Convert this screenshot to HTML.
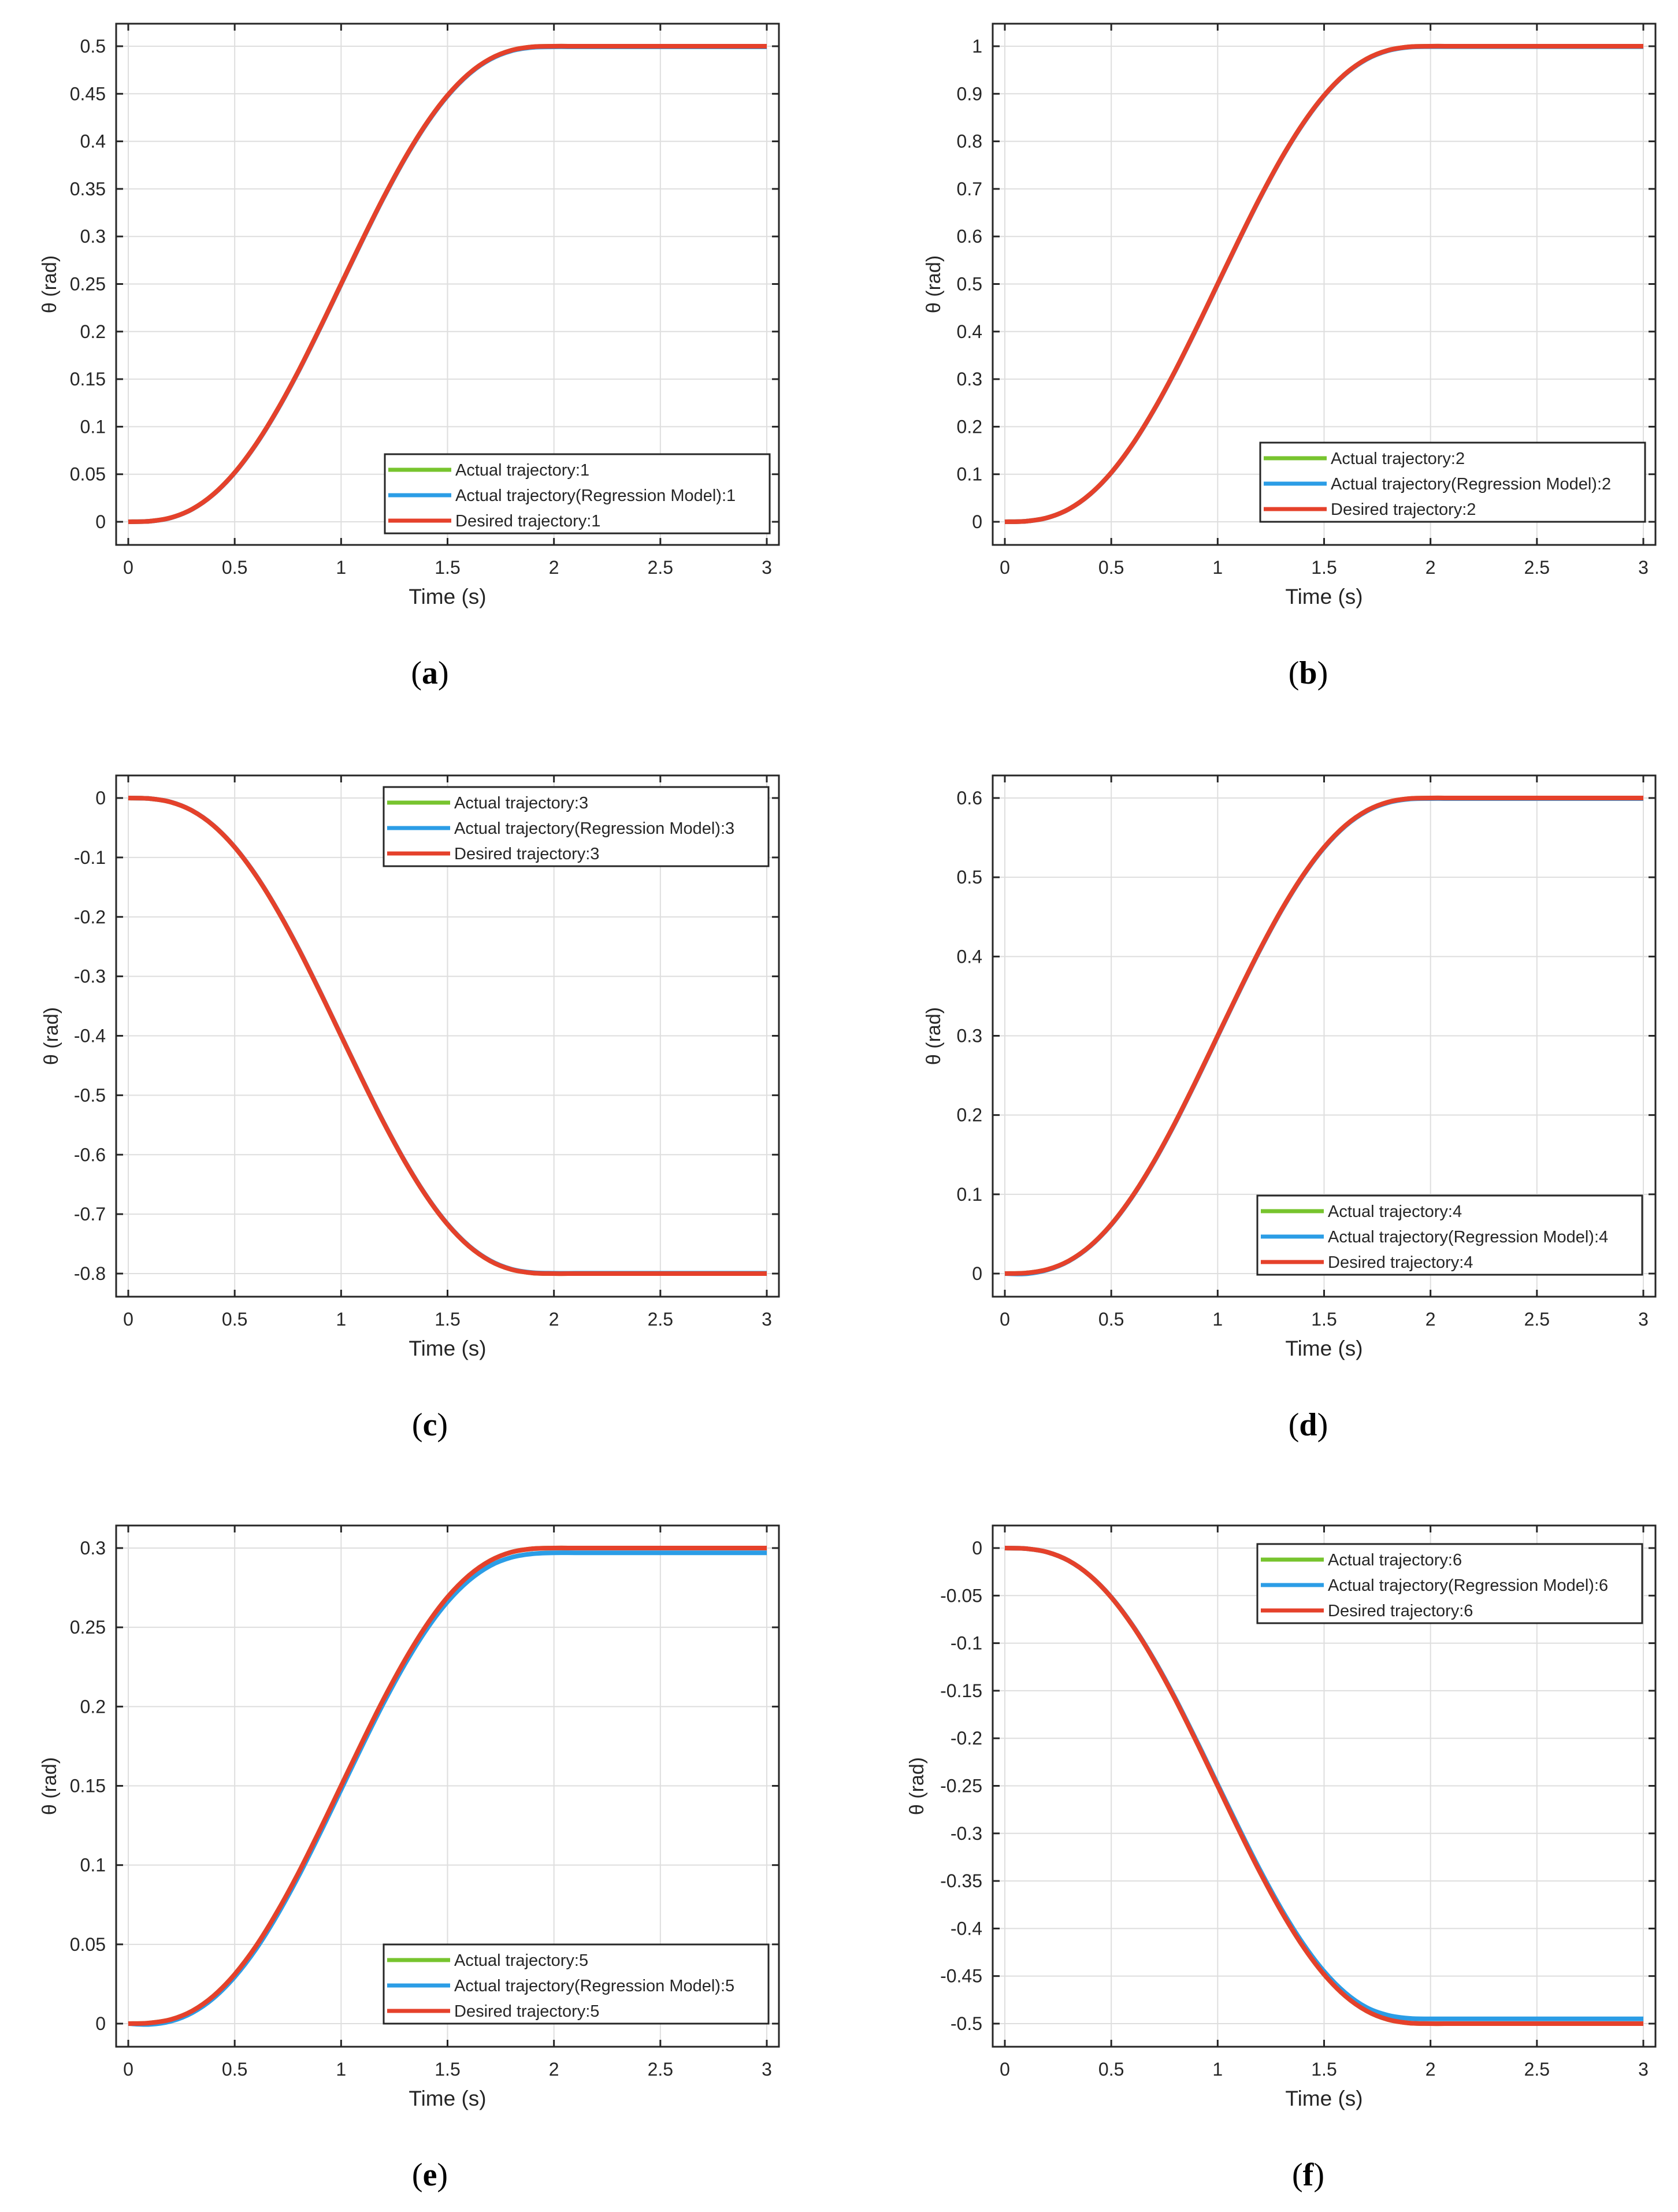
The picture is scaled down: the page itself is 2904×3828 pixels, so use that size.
<!DOCTYPE html>
<html><head><meta charset="utf-8"><title>Trajectories</title>
<style>
html,body{margin:0;padding:0;background:#fff;}
svg{display:block;}
text{font-family:"Liberation Sans",Arial,sans-serif;fill:#262626;}
.cap{font-family:"Liberation Serif",serif;font-size:56px;fill:#000;}
</style></head>
<body>
<svg id="fig" width="2904" height="3828" viewBox="0 0 2904 3828" xmlns="http://www.w3.org/2000/svg"></svg>
<script>
const times = [0,0.1,0.2,0.3,0.4,0.5,0.6,0.7,0.8,0.9,1.0,1.1,1.2,1.3,1.4,1.5,1.6,1.7,1.8,1.9,2.0,2.1,2.2,2.3,2.4,2.5,2.6,2.7,2.8,2.9,3.0];
const xTicks = [0,0.5,1,1.5,2,2.5,3];
const xTickLabels = ["0","0.5","1","1.5","2","2.5","3"];

const desiredA = [0,0.0006,0.0043,0.0133,0.029,0.0518,0.0816,0.1176,0.1587,0.2035,0.25,0.2966,0.3413,0.3824,0.4185,0.4483,0.4711,0.4867,0.4957,0.4994,0.5,0.5,0.5,0.5,0.5,0.5,0.5,0.5,0.5,0.5,0.5];
const actualA = [0,0.0006,0.0043,0.0133,0.029,0.0518,0.0816,0.1176,0.1587,0.2035,0.25,0.2966,0.3413,0.3824,0.4185,0.4483,0.4711,0.4867,0.4957,0.4994,0.5,0.5,0.5,0.5,0.5,0.5,0.5,0.5,0.5,0.5,0.5];
const regressA = [0,0.0006,0.0042,0.0132,0.0288,0.0515,0.0812,0.1172,0.1582,0.203,0.2495,0.296,0.3407,0.3818,0.4179,0.4477,0.4705,0.4861,0.4951,0.4988,0.4994,0.4994,0.4994,0.4994,0.4994,0.4994,0.4994,0.4994,0.4994,0.4994,0.4994];
const yTicksA = [0,0.05,0.1,0.15,0.2,0.25,0.3,0.35,0.4,0.45,0.5];
const yTickLabelsA = ["0","0.05","0.1","0.15","0.2","0.25","0.3","0.35","0.4","0.45","0.5"];

const desiredB = [0,0.0012,0.0086,0.0266,0.0579,0.1035,0.1631,0.2352,0.3174,0.4069,0.5,0.5931,0.6826,0.7648,0.8369,0.8965,0.9421,0.9734,0.9914,0.9988,1,1,1,1,1,1,1,1,1,1,1];
const actualB = [0,0.0012,0.0086,0.0266,0.0579,0.1035,0.1631,0.2352,0.3174,0.4069,0.5,0.5931,0.6826,0.7648,0.8369,0.8965,0.9421,0.9734,0.9914,0.9988,1,1,1,1,1,1,1,1,1,1,1];
const regressB = [0,0.0012,0.0085,0.0264,0.0576,0.103,0.1625,0.2345,0.3166,0.406,0.4991,0.5922,0.6817,0.7639,0.836,0.8956,0.9412,0.9725,0.9905,0.9979,0.9991,0.9991,0.9991,0.9991,0.9991,0.9991,0.9991,0.9991,0.9991,0.9991,0.9991];
const yTicksB = [0,0.1,0.2,0.3,0.4,0.5,0.6,0.7,0.8,0.9,1];
const yTickLabelsB = ["0","0.1","0.2","0.3","0.4","0.5","0.6","0.7","0.8","0.9","1"];

const desiredC = [0,-0.001,-0.0069,-0.0213,-0.0463,-0.0828,-0.1305,-0.1882,-0.2539,-0.3255,-0.4,-0.4745,-0.5461,-0.6118,-0.6695,-0.7172,-0.7537,-0.7787,-0.7931,-0.799,-0.8,-0.8,-0.8,-0.8,-0.8,-0.8,-0.8,-0.8,-0.8,-0.8,-0.8];
const actualC = [0,-0.001,-0.0069,-0.0213,-0.0463,-0.0828,-0.1305,-0.1882,-0.2539,-0.3255,-0.4,-0.4745,-0.5461,-0.6118,-0.6695,-0.7172,-0.7537,-0.7787,-0.7931,-0.799,-0.8,-0.8,-0.8,-0.8,-0.8,-0.8,-0.8,-0.8,-0.8,-0.8,-0.8];
const regressC = [0,-0.001,-0.0068,-0.0212,-0.0461,-0.0825,-0.1301,-0.1877,-0.2533,-0.3249,-0.3994,-0.4739,-0.5455,-0.6112,-0.6689,-0.7166,-0.7531,-0.7781,-0.7925,-0.7984,-0.7994,-0.7994,-0.7994,-0.7994,-0.7994,-0.7994,-0.7994,-0.7994,-0.7994,-0.7994,-0.7994];
const yTicksC = [0,-0.1,-0.2,-0.3,-0.4,-0.5,-0.6,-0.7,-0.8];
const yTickLabelsC = ["0","-0.1","-0.2","-0.3","-0.4","-0.5","-0.6","-0.7","-0.8"];

const desiredD = [0,0.0007,0.0052,0.016,0.0347,0.0621,0.0979,0.1411,0.1904,0.2441,0.3,0.3559,0.4096,0.4589,0.5021,0.5379,0.5653,0.584,0.5948,0.5993,0.6,0.6,0.6,0.6,0.6,0.6,0.6,0.6,0.6,0.6,0.6];
const actualD = [0,0.0007,0.0052,0.016,0.0347,0.0621,0.0979,0.1411,0.1904,0.2441,0.3,0.3559,0.4096,0.4589,0.5021,0.5379,0.5653,0.584,0.5948,0.5993,0.6,0.6,0.6,0.6,0.6,0.6,0.6,0.6,0.6,0.6,0.6];
const regressD = [0,-0.0003,0.0046,0.0156,0.0343,0.0616,0.0973,0.1404,0.1897,0.2434,0.2993,0.3552,0.4089,0.4582,0.5014,0.5372,0.5646,0.5833,0.5941,0.5986,0.5993,0.5993,0.5993,0.5993,0.5993,0.5993,0.5993,0.5993,0.5993,0.5993,0.5993];
const yTicksD = [0,0.1,0.2,0.3,0.4,0.5,0.6];
const yTickLabelsD = ["0","0.1","0.2","0.3","0.4","0.5","0.6"];

const desiredE = [0,0.0004,0.0026,0.008,0.0174,0.0311,0.0489,0.0706,0.0952,0.1221,0.15,0.1779,0.2048,0.2294,0.2511,0.269,0.2826,0.292,0.2974,0.2996,0.3,0.3,0.3,0.3,0.3,0.3,0.3,0.3,0.3,0.3,0.3];
const actualE = [0,0.0004,0.0026,0.008,0.0174,0.0311,0.0489,0.0706,0.0952,0.1221,0.15,0.1779,0.2048,0.2294,0.2511,0.269,0.2826,0.292,0.2974,0.2996,0.3,0.3,0.3,0.3,0.3,0.3,0.3,0.3,0.3,0.3,0.3];
const regressE = [0,-0.0005,0.0015,0.0068,0.016,0.0295,0.047,0.0685,0.093,0.1198,0.1476,0.1755,0.2023,0.2268,0.2484,0.2661,0.2795,0.2888,0.2941,0.2964,0.297,0.297,0.297,0.297,0.297,0.297,0.297,0.297,0.297,0.297,0.297];
const yTicksE = [0,0.05,0.1,0.15,0.2,0.25,0.3];
const yTickLabelsE = ["0","0.05","0.1","0.15","0.2","0.25","0.3"];

const desiredF = [0,-0.0006,-0.0043,-0.0133,-0.029,-0.0518,-0.0816,-0.1176,-0.1587,-0.2035,-0.25,-0.2966,-0.3413,-0.3824,-0.4185,-0.4483,-0.4711,-0.4867,-0.4957,-0.4994,-0.5,-0.5,-0.5,-0.5,-0.5,-0.5,-0.5,-0.5,-0.5,-0.5,-0.5];
const actualF = [0,-0.0006,-0.0043,-0.0133,-0.029,-0.0518,-0.0816,-0.1176,-0.1587,-0.2035,-0.25,-0.2966,-0.3413,-0.3824,-0.4185,-0.4483,-0.4711,-0.4867,-0.4957,-0.4994,-0.5,-0.5,-0.5,-0.5,-0.5,-0.5,-0.5,-0.5,-0.5,-0.5,-0.5];
const regressF = [0,-0.0006,-0.0043,-0.0133,-0.029,-0.0515,-0.0811,-0.1168,-0.1576,-0.2021,-0.2483,-0.2945,-0.3389,-0.3797,-0.4155,-0.4451,-0.4677,-0.4831,-0.4912,-0.4945,-0.495,-0.495,-0.495,-0.495,-0.495,-0.495,-0.495,-0.495,-0.495,-0.495,-0.495];
const yTicksF = [0,-0.05,-0.1,-0.15,-0.2,-0.25,-0.3,-0.35,-0.4,-0.45,-0.5];
const yTickLabelsF = ["0","-0.05","-0.1","-0.15","-0.2","-0.25","-0.3","-0.35","-0.4","-0.45","-0.5"];

const NS = "http://www.w3.org/2000/svg";
const svg = document.getElementById('fig');
function mk(tag, attrs, parent){
  const e = document.createElementNS(NS, tag);
  for (const k in attrs) e.setAttribute(k, attrs[k]);
  parent.appendChild(e);
  return e;
}
function smoothPath(P){
  let d = 'M' + P[0][0].toFixed(1) + ',' + P[0][1].toFixed(1);
  for (let i = 0; i < P.length - 1; i++){
    const p0 = P[Math.max(0, i-1)], p1 = P[i], p2 = P[i+1], p3 = P[Math.min(P.length-1, i+2)];
    const c1x = p1[0] + (p2[0]-p0[0])/6, c1y = p1[1] + (p2[1]-p0[1])/6;
    const c2x = p2[0] - (p3[0]-p1[0])/6, c2y = p2[1] - (p3[1]-p1[1])/6;
    d += ' C' + c1x.toFixed(1) + ',' + c1y.toFixed(1) + ' ' + c2x.toFixed(1) + ',' + c2y.toFixed(1) + ' ' + p2[0].toFixed(1) + ',' + p2[1].toFixed(1);
  }
  return d;
}
const GREEN = "#77c42e", BLUE = "#2b9de6", RED = "#e5412b";

function panel(cfg){
  const L = cfg.ox, T = cfg.oy, W = 1147, H = 902;
  const g = mk('g', {}, svg);
  
  
  const yt = cfg.yTicks;
  const yHi = Math.max(...yt), yLo = Math.min(...yt);
  const xScale = v => L + 21 + v * (1105 / 3);
  const yScale = v => T + 39 + (yHi - v) * (823 / (yHi - yLo));
  const bg = mk('rect', {x:L, y:T, width:W, height:H, fill:'#fff'}, g);
  
  
  xTicks.forEach(v => {
    const l = mk('line', {x1:xScale(v), x2:xScale(v), y1:T, y2:T+H, stroke:'#dedede', 'stroke-width':2}, g);
    
    
  });
  yt.forEach(v => {
    const l = mk('line', {x1:L, x2:L+W, y1:yScale(v), y2:yScale(v), stroke:'#dedede', 'stroke-width':2}, g);
    
    
  });
  const series = [[cfg.actual, GREEN, 'actual-line'], [cfg.regress, BLUE, 'regression-line'], [cfg.desired, RED, 'desired-line']];
  series.forEach(s => {
    const pts = times.map((t, i) => [xScale(t), yScale(s[0][i])]);
    const p = mk('path', {d:smoothPath(pts), fill:'none', stroke:s[1], 'stroke-width':8, 'stroke-linejoin':'round'}, g);
    
    
  });
  const box = mk('rect', {x:L, y:T, width:W, height:H, fill:'none', stroke:'#262626', 'stroke-width':3}, g);
  
  
  xTicks.forEach((v, i) => {
    const x = xScale(v);
    mk('line', {x1:x, x2:x, y1:T+H, y2:T+H-12, stroke:'#262626', 'stroke-width':3}, g);
    mk('line', {x1:x, x2:x, y1:T, y2:T+12, stroke:'#262626', 'stroke-width':3}, g);
    const tx = mk('text', {x:x, y:T+H+50, 'text-anchor':'middle', 'font-size':32}, g);
    tx.textContent = xTickLabels[i];
    
    
  });
  yt.forEach((v, i) => {
    const y = yScale(v);
    mk('line', {x1:L, x2:L+12, y1:y, y2:y, stroke:'#262626', 'stroke-width':3}, g);
    mk('line', {x1:L+W, x2:L+W-12, y1:y, y2:y, stroke:'#262626', 'stroke-width':3}, g);
    const tx = mk('text', {x:L-18, y:y+11, 'text-anchor':'end', 'font-size':32}, g);
    tx.textContent = cfg.yLabels[i];
    
    
  });
  const xl = mk('text', {x:L+W/2, y:T+H+102, 'text-anchor':'middle', 'font-size':37}, g);
  xl.textContent = 'Time (s)';
  
  
  const yl = mk('text', {x:0, y:0, 'text-anchor':'middle', 'font-size':34, transform:'translate(' + (cfg.ylx + 12) + ',' + (T + H/2) + ') rotate(-90)'}, g);
  yl.textContent = 'θ (rad)';
  
  
  const cap = mk('text', {x:cfg.capX, y:T+H+240, 'text-anchor':'middle', class:'cap'}, g);
  cap.innerHTML = '(<tspan font-weight="bold">' + cfg.id + '</tspan>)';
  
  
  const lg = mk('g', {}, g);
  
  
  const lx = cfg.legX, ly = cfg.legY;
  mk('rect', {x:lx, y:ly, width:666, height:137, fill:'#fff', stroke:'#262626', 'stroke-width':3}, lg);
  const names = ['Actual trajectory:' + cfg.n, 'Actual trajectory(Regression Model):' + cfg.n, 'Desired trajectory:' + cfg.n];
  const cols = [GREEN, BLUE, RED];
  names.forEach((nm, i) => {
    const ry = ly + 27 + i * 44;
    const ln = mk('line', {x1:lx+6, x2:lx+115, y1:ry, y2:ry, stroke:cols[i], 'stroke-width':7}, lg);
    
    
    const tx = mk('text', {x:lx+122, y:ry+10, 'font-size':29}, lg);
    tx.textContent = nm;
    
    
  });
}

const LX = 201, RX = 1718, R1 = 41, R2 = 1342, R3 = 2640;
panel({id:'a', n:1, ox:LX, oy:R1, actual:actualA, regress:regressA, desired:desiredA, yTicks:yTicksA, yLabels:yTickLabelsA, ylx:85, capX:744, legX:666, legY:786});
panel({id:'b', n:2, ox:RX, oy:R1, actual:actualB, regress:regressB, desired:desiredB, yTicks:yTicksB, yLabels:yTickLabelsB, ylx:1615, capX:2264, legX:2181, legY:766});
panel({id:'c', n:3, ox:LX, oy:R2, actual:actualC, regress:regressC, desired:desiredC, yTicks:yTicksC, yLabels:yTickLabelsC, ylx:88, capX:744, legX:664, legY:1362});
panel({id:'d', n:4, ox:RX, oy:R2, actual:actualD, regress:regressD, desired:desiredD, yTicks:yTicksD, yLabels:yTickLabelsD, ylx:1615, capX:2264, legX:2176, legY:2069});
panel({id:'e', n:5, ox:LX, oy:R3, actual:actualE, regress:regressE, desired:desiredE, yTicks:yTicksE, yLabels:yTickLabelsE, ylx:85, capX:744, legX:664, legY:3365});
panel({id:'f', n:6, ox:RX, oy:R3, actual:actualF, regress:regressF, desired:desiredF, yTicks:yTicksF, yLabels:yTickLabelsF, ylx:1586, capX:2264, legX:2176, legY:2672});
</script>
</body></html>
